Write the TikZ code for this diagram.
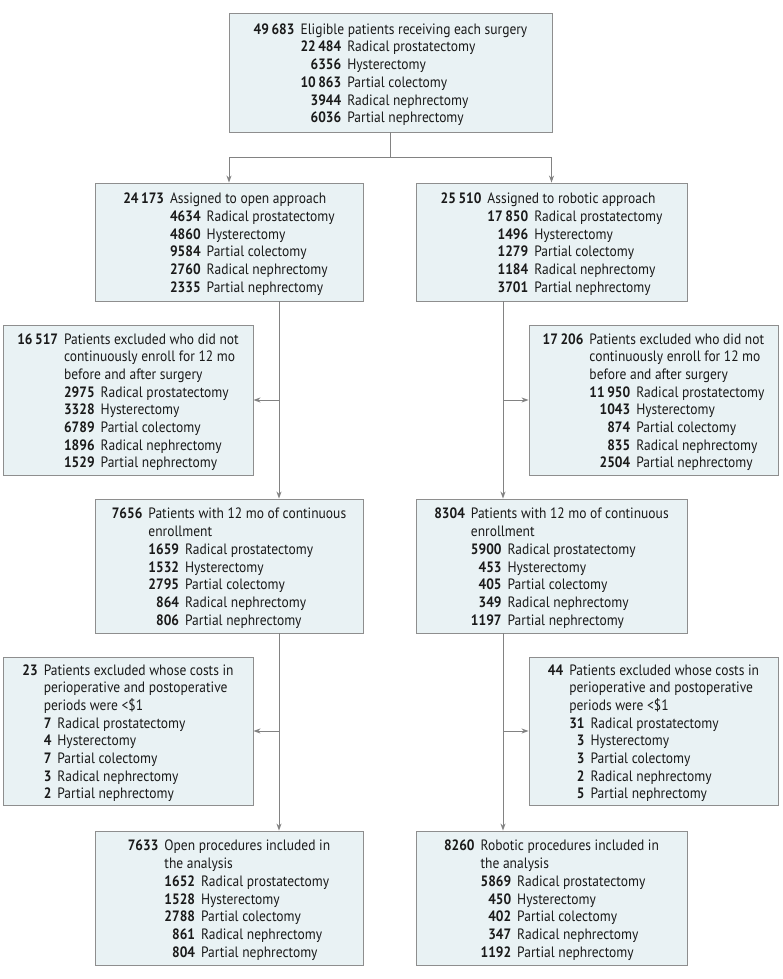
\documentclass[tikz,border=0pt]{standalone}
\usepackage{fontspec}
\setmainfont[FakeStretch=0.9]{PT Sans}
\usetikzlibrary{arrows.meta}
\definecolor{boxfill}{HTML}{E9F2F4}
\definecolor{boxline}{HTML}{8E8E8E}
\definecolor{connline}{HTML}{828282}
\definecolor{txt}{HTML}{1A1A1A}
\newlength{\numw}
\newcommand{\hd}[2]{\textbf{#1} & #2\\}
\newcommand{\hc}[1]{& #1\\}
\newcommand{\itm}[2]{& \makebox[\numw][r]{\textbf{#1}}\hspace{6pt}#2\\}
\newcommand{\bxtext}[2]{\settowidth{\numw}{\textbf{#1}}\raisebox{-2.5pt}[\height][\depth]{\begin{tabular}{@{}r@{\hspace{6pt}}l@{}}#2\end{tabular}}}
\tikzset{
  bx/.style={draw=boxline, fill=boxfill, line width=0.9pt, inner sep=0pt, text=txt,
    font=\fontsize{15}{17.7}\selectfont},
  conn/.style={draw=connline, line width=0.9pt},
  arr/.style={conn, -{Stealth[length=7pt,width=5pt]}, shorten >=0pt}
}
\begin{document}
\begin{tikzpicture}[x=1pt,y=-1pt]
\useasboundingbox (0,0) rectangle (783,979);
% top
\node[bx, minimum width=323pt, minimum height=119pt] (top) at (390.5,72.5)
 {\bxtext{22\,484}{\hd{49\,683}{Eligible patients receiving each surgery}
 \itm{22\,484}{Radical prostatectomy}
 \itm{6356}{Hysterectomy}
 \itm{10\,863}{Partial colectomy}
 \itm{3944}{Radical nephrectomy}
 \itm{6036}{Partial nephrectomy}}};
% open / robotic
\node[bx, minimum width=268pt, minimum height=118pt] (open) at (229,242)
 {\bxtext{4634}{\hd{24\,173}{Assigned to open approach}
 \itm{4634}{Radical prostatectomy}
 \itm{4860}{Hysterectomy}
 \itm{9584}{Partial colectomy}
 \itm{2760}{Radical nephrectomy}
 \itm{2335}{Partial nephrectomy}}};
\node[bx, minimum width=271pt, minimum height=118pt] (rob) at (551.5,242)
 {\bxtext{17\,850}{\hd{25\,510}{Assigned to robotic approach}
 \itm{17\,850}{Radical prostatectomy}
 \itm{1496}{Hysterectomy}
 \itm{1279}{Partial colectomy}
 \itm{1184}{Radical nephrectomy}
 \itm{3701}{Partial nephrectomy}}};
% exclusions 1
\node[bx, minimum width=250pt, minimum height=150pt] (exA) at (128,400)
 {\bxtext{2975}{\hd{16\,517}{Patients excluded who did not}
 \hc{continuously enroll for 12 mo}
 \hc{before and after surgery}
 \itm{2975}{Radical prostatectomy}
 \itm{3328}{Hysterectomy}
 \itm{6789}{Partial colectomy}
 \itm{1896}{Radical nephrectomy}
 \itm{1529}{Partial nephrectomy}}};
\node[bx, minimum width=249pt, minimum height=150pt] (exB) at (653.5,400)
 {\bxtext{11\,950}{\hd{17\,206}{Patients excluded who did not}
 \hc{continuously enroll for 12 mo}
 \hc{before and after surgery}
 \itm{11\,950}{Radical prostatectomy}
 \itm{1043}{Hysterectomy}
 \itm{874}{Partial colectomy}
 \itm{835}{Radical nephrectomy}
 \itm{2504}{Partial nephrectomy}}};
% enrollment
\node[bx, minimum width=268pt, minimum height=134pt] (enA) at (229,566)
 {\bxtext{1659}{\hd{7656}{Patients with 12 mo of continuous}
 \hc{enrollment}
 \itm{1659}{Radical prostatectomy}
 \itm{1532}{Hysterectomy}
 \itm{2795}{Partial colectomy}
 \itm{864}{Radical nephrectomy}
 \itm{806}{Partial nephrectomy}}};
\node[bx, minimum width=271pt, minimum height=134pt] (enB) at (551.5,566)
 {\bxtext{5900}{\hd{8304}{Patients with 12 mo of continuous}
 \hc{enrollment}
 \itm{5900}{Radical prostatectomy}
 \itm{453}{Hysterectomy}
 \itm{405}{Partial colectomy}
 \itm{349}{Radical nephrectomy}
 \itm{1197}{Partial nephrectomy}}};
% exclusions 2
\node[bx, minimum width=250pt, minimum height=148pt] (exC) at (128,731)
 {\bxtext{7}{\hd{23}{Patients excluded whose costs in}
 \hc{perioperative and postoperative}
 \hc{periods were <\$1}
 \itm{7}{Radical prostatectomy}
 \itm{4}{Hysterectomy}
 \itm{7}{Partial colectomy}
 \itm{3}{Radical nephrectomy}
 \itm{2}{Partial nephrectomy}}};
\node[bx, minimum width=249pt, minimum height=148pt] (exD) at (653.5,731)
 {\bxtext{31}{\hd{44}{Patients excluded whose costs in}
 \hc{perioperative and postoperative}
 \hc{periods were <\$1}
 \itm{31}{Radical prostatectomy}
 \itm{3}{Hysterectomy}
 \itm{3}{Partial colectomy}
 \itm{2}{Radical nephrectomy}
 \itm{5}{Partial nephrectomy}}};
% final
\node[bx, minimum width=268pt, minimum height=134pt] (fiA) at (229,898)
 {\bxtext{1652}{\hd{7633}{Open procedures included in}
 \hc{the analysis}
 \itm{1652}{Radical prostatectomy}
 \itm{1528}{Hysterectomy}
 \itm{2788}{Partial colectomy}
 \itm{861}{Radical nephrectomy}
 \itm{804}{Partial nephrectomy}}};
\node[bx, minimum width=271pt, minimum height=134pt] (fiB) at (551.5,898)
 {\bxtext{5869}{\hd{8260}{Robotic procedures included in}
 \hc{the analysis}
 \itm{5869}{Radical prostatectomy}
 \itm{450}{Hysterectomy}
 \itm{402}{Partial colectomy}
 \itm{347}{Radical nephrectomy}
 \itm{1192}{Partial nephrectomy}}};
% connectors
\coordinate (split) at (390.5,157);
\draw[conn] (top.south) -- (split);
\draw[arr] (split) -| (open.north);
\draw[arr] (split) -| (rob.north);
% left column
\coordinate (Ls1) at ([xshift=50pt]open.south);
\coordinate (Lb1) at (Ls1 |- exA.east);
\draw[arr] (Ls1) -- ([xshift=50pt]enA.north);
\draw[arr] (Lb1) -- (exA.east);
\coordinate (Ls2) at ([xshift=50pt]enA.south);
\coordinate (Lb2) at (Ls2 |- exC.east);
\draw[arr] (Ls2) -- ([xshift=50pt]fiA.north);
\draw[arr] (Lb2) -- (exC.east);
% right column
\coordinate (Rs1) at ([xshift=-48.5pt]rob.south);
\coordinate (Rb1) at (Rs1 |- exB.west);
\draw[arr] (Rs1) -- ([xshift=-48.5pt]enB.north);
\draw[arr] (Rb1) -- (exB.west);
\coordinate (Rs2) at ([xshift=-48.5pt]enB.south);
\coordinate (Rb2) at (Rs2 |- exD.west);
\draw[arr] (Rs2) -- ([xshift=-48.5pt]fiB.north);
\draw[arr] (Rb2) -- (exD.west);
\end{tikzpicture}
\end{document}
